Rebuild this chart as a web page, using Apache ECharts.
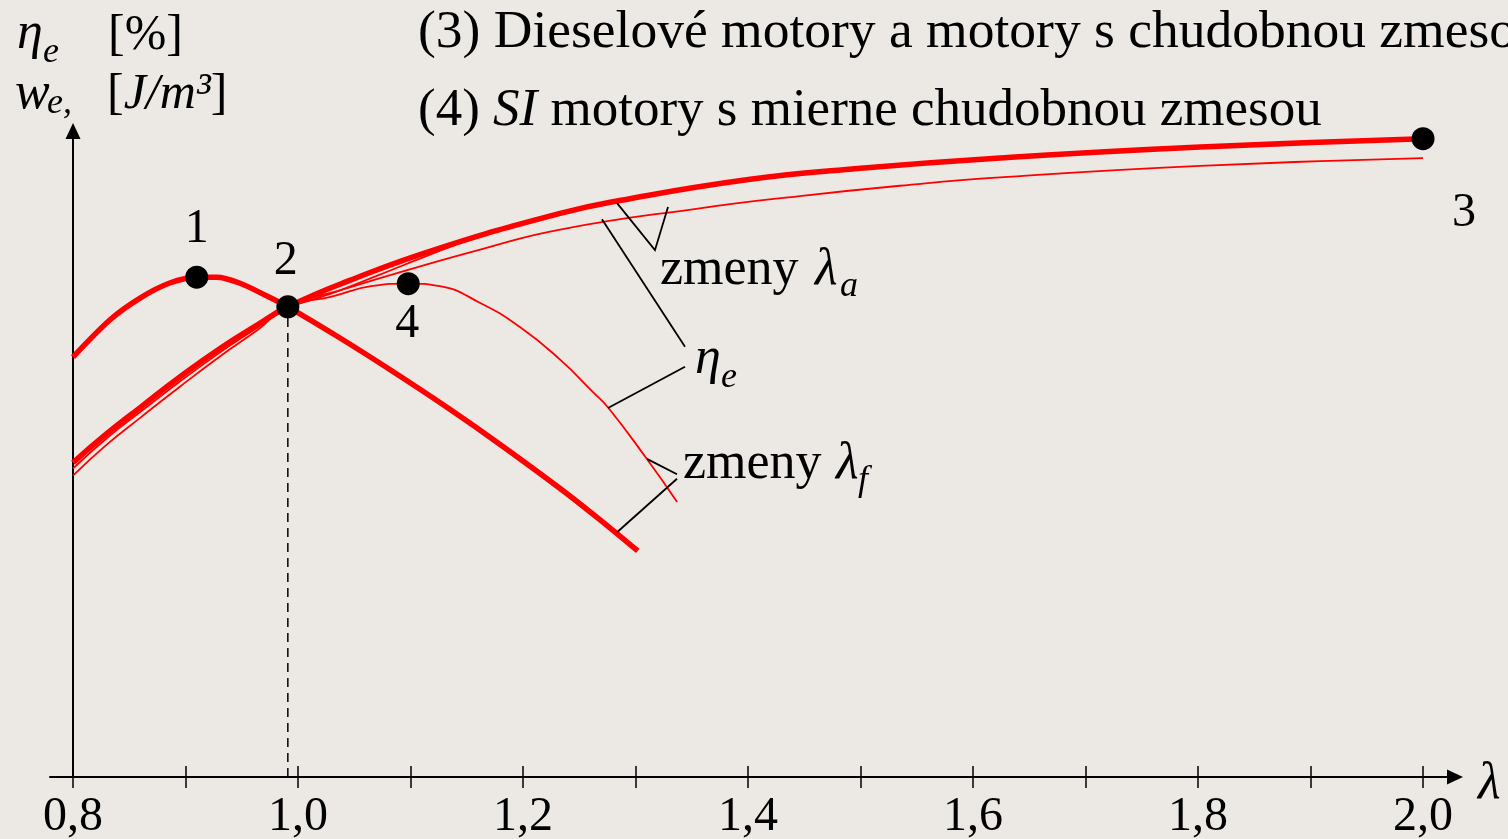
<!DOCTYPE html>
<html>
<head>
<meta charset="utf-8">
<script src="https://cdn.jsdelivr.net/npm/echarts@6/dist/echarts.min.js"></script>
<style>
  html, body { margin: 0; padding: 0; background: #ece8e4; }
  #chart { width: 1508px; height: 839px; }
</style>
</head>
<body>
<div id="chart"></div>
<script>
// ---- excess-air ratio axis ----
const lambdaTicks  = [0.8, 0.9, 1.0, 1.1, 1.2, 1.3, 1.4, 1.5, 1.6, 1.7, 1.8, 1.9, 2.0];
const lambdaLabels = [0.8, 1.0, 1.2, 1.4, 1.6, 1.8, 2.0];

// efficiency curve of the stoichiometric engine (maximum at point 1)
const curve1Lam = [0.8, 0.833, 0.860, 0.886, 0.910, 0.928, 0.948, 0.971, 0.991, 1.037, 1.084, 1.135, 1.180, 1.233, 1.268, 1.302];
const curve1Val = [65.2, 71.0, 74.4, 76.7, 77.6, 77.6, 76.7, 74.8, 73.0, 68.2, 63.0, 57.1, 51.6, 44.8, 40.0, 35.1];

// (3) diesel / lean-mixture engines, thick curve ending at point 3
const curve3Lam = [0.8, 0.830, 0.860, 0.895, 0.933, 0.964, 0.991, 1.046, 1.124, 1.233, 1.286, 1.402, 1.493, 1.624, 1.802, 2.0];
const curve3Val = [48.8, 53.3, 57.4, 62.1, 66.8, 70.2, 73.0, 77.1, 82.0, 87.5, 89.5, 92.8, 94.4, 96.1, 97.8, 99.1];

// thin branch running just under curve 3 until it joins it
const curve3bLam = [0.991, 1.030, 1.070, 1.110, 1.140];
const curve3bVal = [73.0, 75.1, 77.8, 80.6, 82.6];

// variation of λa (thin curve below curve 3)
const curveALam = [0.8, 0.830, 0.860, 0.895, 0.933, 0.964, 0.991, 1.046, 1.091, 1.162, 1.233, 1.357, 1.446, 1.535, 1.624, 1.802, 2.0];
const curveAVal = [47.9, 52.6, 56.7, 61.4, 66.2, 69.8, 73.0, 76.0, 78.4, 81.9, 85.0, 88.3, 90.2, 91.8, 93.1, 94.9, 96.1];

// (4) SI engines with slightly lean mixture (maximum at point 4)
const curve4Lam = [0.8, 0.830, 0.860, 0.895, 0.933, 0.964, 0.991, 1.030, 1.065, 1.098, 1.126, 1.162, 1.197, 1.233, 1.262, 1.276, 1.310, 1.337];
const curve4Val = [46.8, 51.6, 55.8, 60.6, 65.6, 69.4, 73.0, 74.6, 76.2, 76.6, 76.2, 73.6, 69.9, 64.8, 59.8, 57.3, 49.4, 42.7];

// marked operating points
const pointNames = ['1', '2', '4', '3'];
const pointLam   = [0.910, 0.991, 1.098, 2.0];
const pointVal   = [77.6, 73.0, 76.6, 99.1];

// leader lines from the curves to their captions
const leaderLam = [[1.2836, 1.3173, 1.3289], [1.2702, 1.344], [1.344, 1.2756], [1.3102, 1.3369], [1.3369, 1.2836]];
const leaderVal = [[89.1, 81.8, 88.5],       [86.6, 66.8],     [63.7, 57.3],     [49.4, 47.0],     [46.3, 38.0]];

const zip = (xs, ys) => xs.map((x, i) => [x, ys[i]]);

const RED = '#ff0000';
const FONT = '"Liberation Serif", "Times New Roman", serif';
const X_MIN = 0.7796, X_MAX = 2.0284;

const labelOffsets = { '1': [0, -48], '2': [-2, -45], '4': [-1, 41], '3': [41, 75] };

// text with its alphabetic baseline at y
function txt(x, baseline, text, size, italic, rich) {
  const style = {
    text: text,
    font: (italic ? 'italic ' : '') + size + 'px ' + FONT,
    fill: '#000',
    align: 'left',
    verticalAlign: 'middle'
  };
  if (rich) style.rich = rich;
  return { type: 'text', x: x, y: baseline - 0.25 * size, silent: true, style: style };
}
const italicRich = size => ({ i: { fontStyle: 'italic', fontSize: size, fontFamily: FONT, color: '#000' } });

const chart = echarts.init(document.getElementById('chart'), null, { renderer: 'canvas' });

const thinLine = (lam, val) => ({
  type: 'line', data: zip(lam, val), smooth: 0.5, symbol: 'none', silent: true,
  lineStyle: { color: RED, width: 1.8 }, z: 3
});
const thickLine = (lam, val, smooth) => ({
  type: 'line', data: zip(lam, val), smooth: smooth, symbol: 'none', silent: true,
  lineStyle: { color: RED, width: 5.5 }, z: 4
});

const axisLineStyle = { color: '#000', width: 2 };
const tickStyle = { color: '#000', width: 1.5 };

chart.setOption({
  backgroundColor: '#ece8e4',
  animation: false,
  grid: { left: 50, right: 53, top: 131, bottom: 62, containLabel: false, outerBoundsMode: 'none' },
  xAxis: [
    {
      type: 'value', position: 'bottom', min: X_MIN, max: X_MAX,
      axisLine: { show: true, onZero: false, symbol: ['none', 'triangle'], symbolSize: [15, 16], lineStyle: axisLineStyle },
      axisTick: { show: true, inside: true, length: 11, customValues: lambdaTicks, lineStyle: tickStyle },
      axisLabel: { show: false },
      splitLine: { show: false }
    },
    {
      type: 'value', position: 'bottom', offset: 0, min: X_MIN, max: X_MAX,
      axisLine: { show: false, onZero: false },
      axisTick: { show: true, inside: false, length: 11, customValues: lambdaTicks, lineStyle: tickStyle },
      axisLabel: {
        show: true, customValues: lambdaLabels, margin: 16,
        fontSize: 48, fontFamily: FONT, color: '#000',
        formatter: v => v.toFixed(1).replace('.', ',')
      },
      splitLine: { show: false }
    }
  ],
  yAxis: {
    type: 'value', min: 0, max: 100.3, offset: -23,
    axisLine: { show: true, onZero: false, symbol: ['none', 'triangle'], symbolSize: [15, 16], lineStyle: axisLineStyle },
    axisTick: { show: false },
    axisLabel: { show: false },
    splitLine: { show: false }
  },
  series: [
    thinLine(curveALam, curveAVal),
    thinLine(curve4Lam, curve4Val),
    thinLine(curve3bLam, curve3bVal),
    thickLine(curve3Lam, curve3Val, 0.5),
    thickLine(curve1Lam, curve1Val, 0.3),
    {
      type: 'line', silent: true, symbol: 'none', z: 2,
      data: [[pointLam[1], 0], [pointLam[1], pointVal[1]]],
      lineStyle: { color: '#000', width: 1.5, type: [9, 6] }
    },
    {
      type: 'lines', coordinateSystem: 'cartesian2d', polyline: true, silent: true, z: 5,
      lineStyle: { color: '#000', width: 1.8, opacity: 1 },
      data: leaderLam.map((ls, i) => ({ coords: zip(ls, leaderVal[i]) }))
    },
    {
      type: 'scatter', symbol: 'circle', symbolSize: 23, silent: true, z: 6,
      itemStyle: { color: '#000', opacity: 1 },
      data: pointNames.map((n, i) => ({
        value: [pointLam[i], pointVal[i]],
        name: n,
        label: {
          show: true, position: 'inside', offset: labelOffsets[n],
          formatter: n, fontSize: 48, fontFamily: FONT, color: '#000', opacity: 1,
          align: 'center', verticalAlign: 'middle'
        }
      }))
    }
  ],
  graphic: [
    // axis titles
    txt(17, 47, 'η', 52, true),
    txt(43, 62, 'e', 36, true),
    txt(108, 48, '[%]', 50, false),
    txt(15, 107, 'w', 52, true),
    txt(47, 113, 'e,', 36, true),
    txt(107, 107, '[{i|J/m³}]', 50, false, italicRich(50)),
    txt(1478, 797, 'λ', 52, true),
    // legend lines
    txt(418, 46, '(3) Dieselové motory a motory s chudobnou zmesou', 53.5, false),
    txt(418, 124, '(4) {i|SI} motory s mierne chudobnou zmesou', 53, false, italicRich(53)),
    // captions
    txt(660, 283, 'zmeny', 52, false),
    txt(815, 283, 'λ', 52, true),
    txt(840, 296, 'a', 36, true),
    txt(695, 372, 'η', 52, true),
    txt(721, 387, 'e', 36, true),
    txt(683, 477, 'zmeny', 52, false),
    txt(836, 477, 'λ', 52, true),
    txt(858, 490, 'f', 36, true)
  ]
});
</script>
</body>
</html>
